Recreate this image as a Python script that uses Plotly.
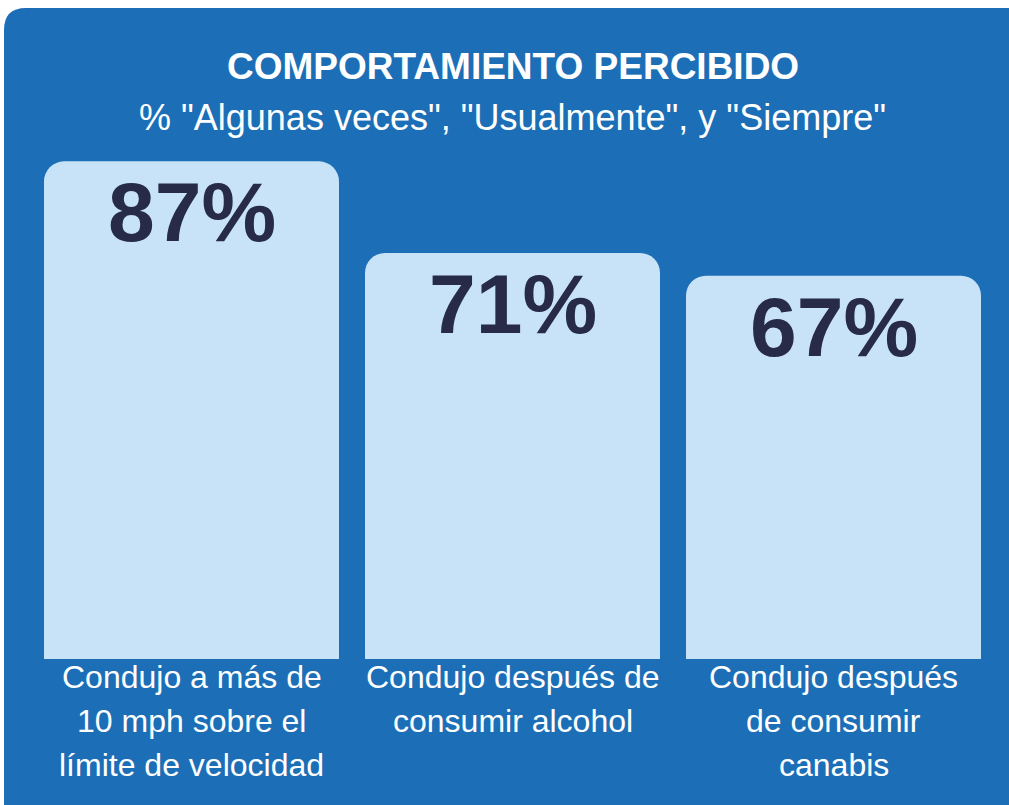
import plotly.graph_objects as go

categories = [
    "Condujo a más de<br>10 mph sobre el<br>límite de velocidad",
    "Condujo después de<br>consumir alcohol",
    "Condujo después<br>de consumir<br>canabis",
]
values = [87, 71, 67]
value_labels = ["87%", "71%", "67%"]

title = "COMPORTAMIENTO PERCIBIDO"
subtitle = '% "Algunas veces", "Usualmente", y "Siempre"'

W, H = 1009, 805
ml, mr, mt, mb = 31, 15, 87, 146
pw, ph = W - ml - mr, H - mt - mb

PANEL = "#1C6FB7"
BAR = "#C8E3F7"
DARK = "#272B48"
FONT = "Liberation Sans, Arial, sans-serif"

def px2x(px):
    return (px - ml) / pw

def py2y(py):
    return 1 - (py - mt) / ph

# rounded panel path in paper coords
x0, x1, y0, y1, r = 4, 1030, 8, 830, 22
def P(px, py):
    return f"{px2x(px):.5f},{py2y(py):.5f}"
path = (
    f"M {P(x0 + r, y0)} L {P(x1 - r, y0)} Q {P(x1, y0)} {P(x1, y0 + r)} "
    f"L {P(x1, y1 - r)} Q {P(x1, y1)} {P(x1 - r, y1)} "
    f"L {P(x0 + r, y1)} Q {P(x0, y1)} {P(x0, y1 - r)} "
    f"L {P(x0, y0 + r)} Q {P(x0, y0)} {P(x0 + r, y0)} Z"
)

fig = go.Figure()
fig.add_trace(go.Bar(
    x=list(range(len(categories))),
    y=values,
    marker=dict(color=BAR, line=dict(width=0)),
    hoverinfo="skip",
))

for i, (v, lab) in enumerate(zip(values, value_labels)):
    fig.add_annotation(
        x=i, y=v, text=f"<b>{lab}</b>", showarrow=False,
        yanchor="top", yshift=-2,
        font=dict(family=FONT, size=84, color=DARK),
    )

# category labels, one line per annotation for exact line spacing
for i, cat in enumerate(categories):
    for j, line in enumerate(cat.split("<br>")):
        fig.add_annotation(
            x=i, y=0, text=line, showarrow=False,
            yanchor="middle", yshift=-(18 + 44 * j),
            font=dict(family=FONT, size=32, color="white"),
        )

fig.add_annotation(
    x=0.5, y=py2y(67), xref="paper", yref="paper", text=f"<b>{title}</b>",
    showarrow=False, yanchor="middle",
    font=dict(family=FONT, size=37, color="white"),
)
fig.add_annotation(
    x=0.5, y=py2y(118), xref="paper", yref="paper", text=subtitle,
    showarrow=False, yanchor="middle",
    font=dict(family=FONT, size=36, color="white"),
)

fig.update_layout(
    width=W, height=H,
    margin=dict(l=ml, r=mr, t=mt, b=mb, pad=0),
    paper_bgcolor="white",
    plot_bgcolor="rgba(0,0,0,0)",
    bargap=0.081,
    barcornerradius=20,
    showlegend=False,
    shapes=[dict(type="path", path=path, xref="paper", yref="paper",
                 fillcolor=PANEL, line=dict(width=0), layer="below")],
    xaxis=dict(
        range=[-0.5, len(categories) - 0.5], showgrid=False, zeroline=False,
        showline=False, ticks="", showticklabels=False,
    ),
    yaxis=dict(range=[0, 100], visible=False, showgrid=False, zeroline=False),
)

fig.write_html(
    "out.html",
    config={"displayModeBar": False},
    post_script="document.body.style.margin='0px';document.body.style.overflow='hidden';",
)
